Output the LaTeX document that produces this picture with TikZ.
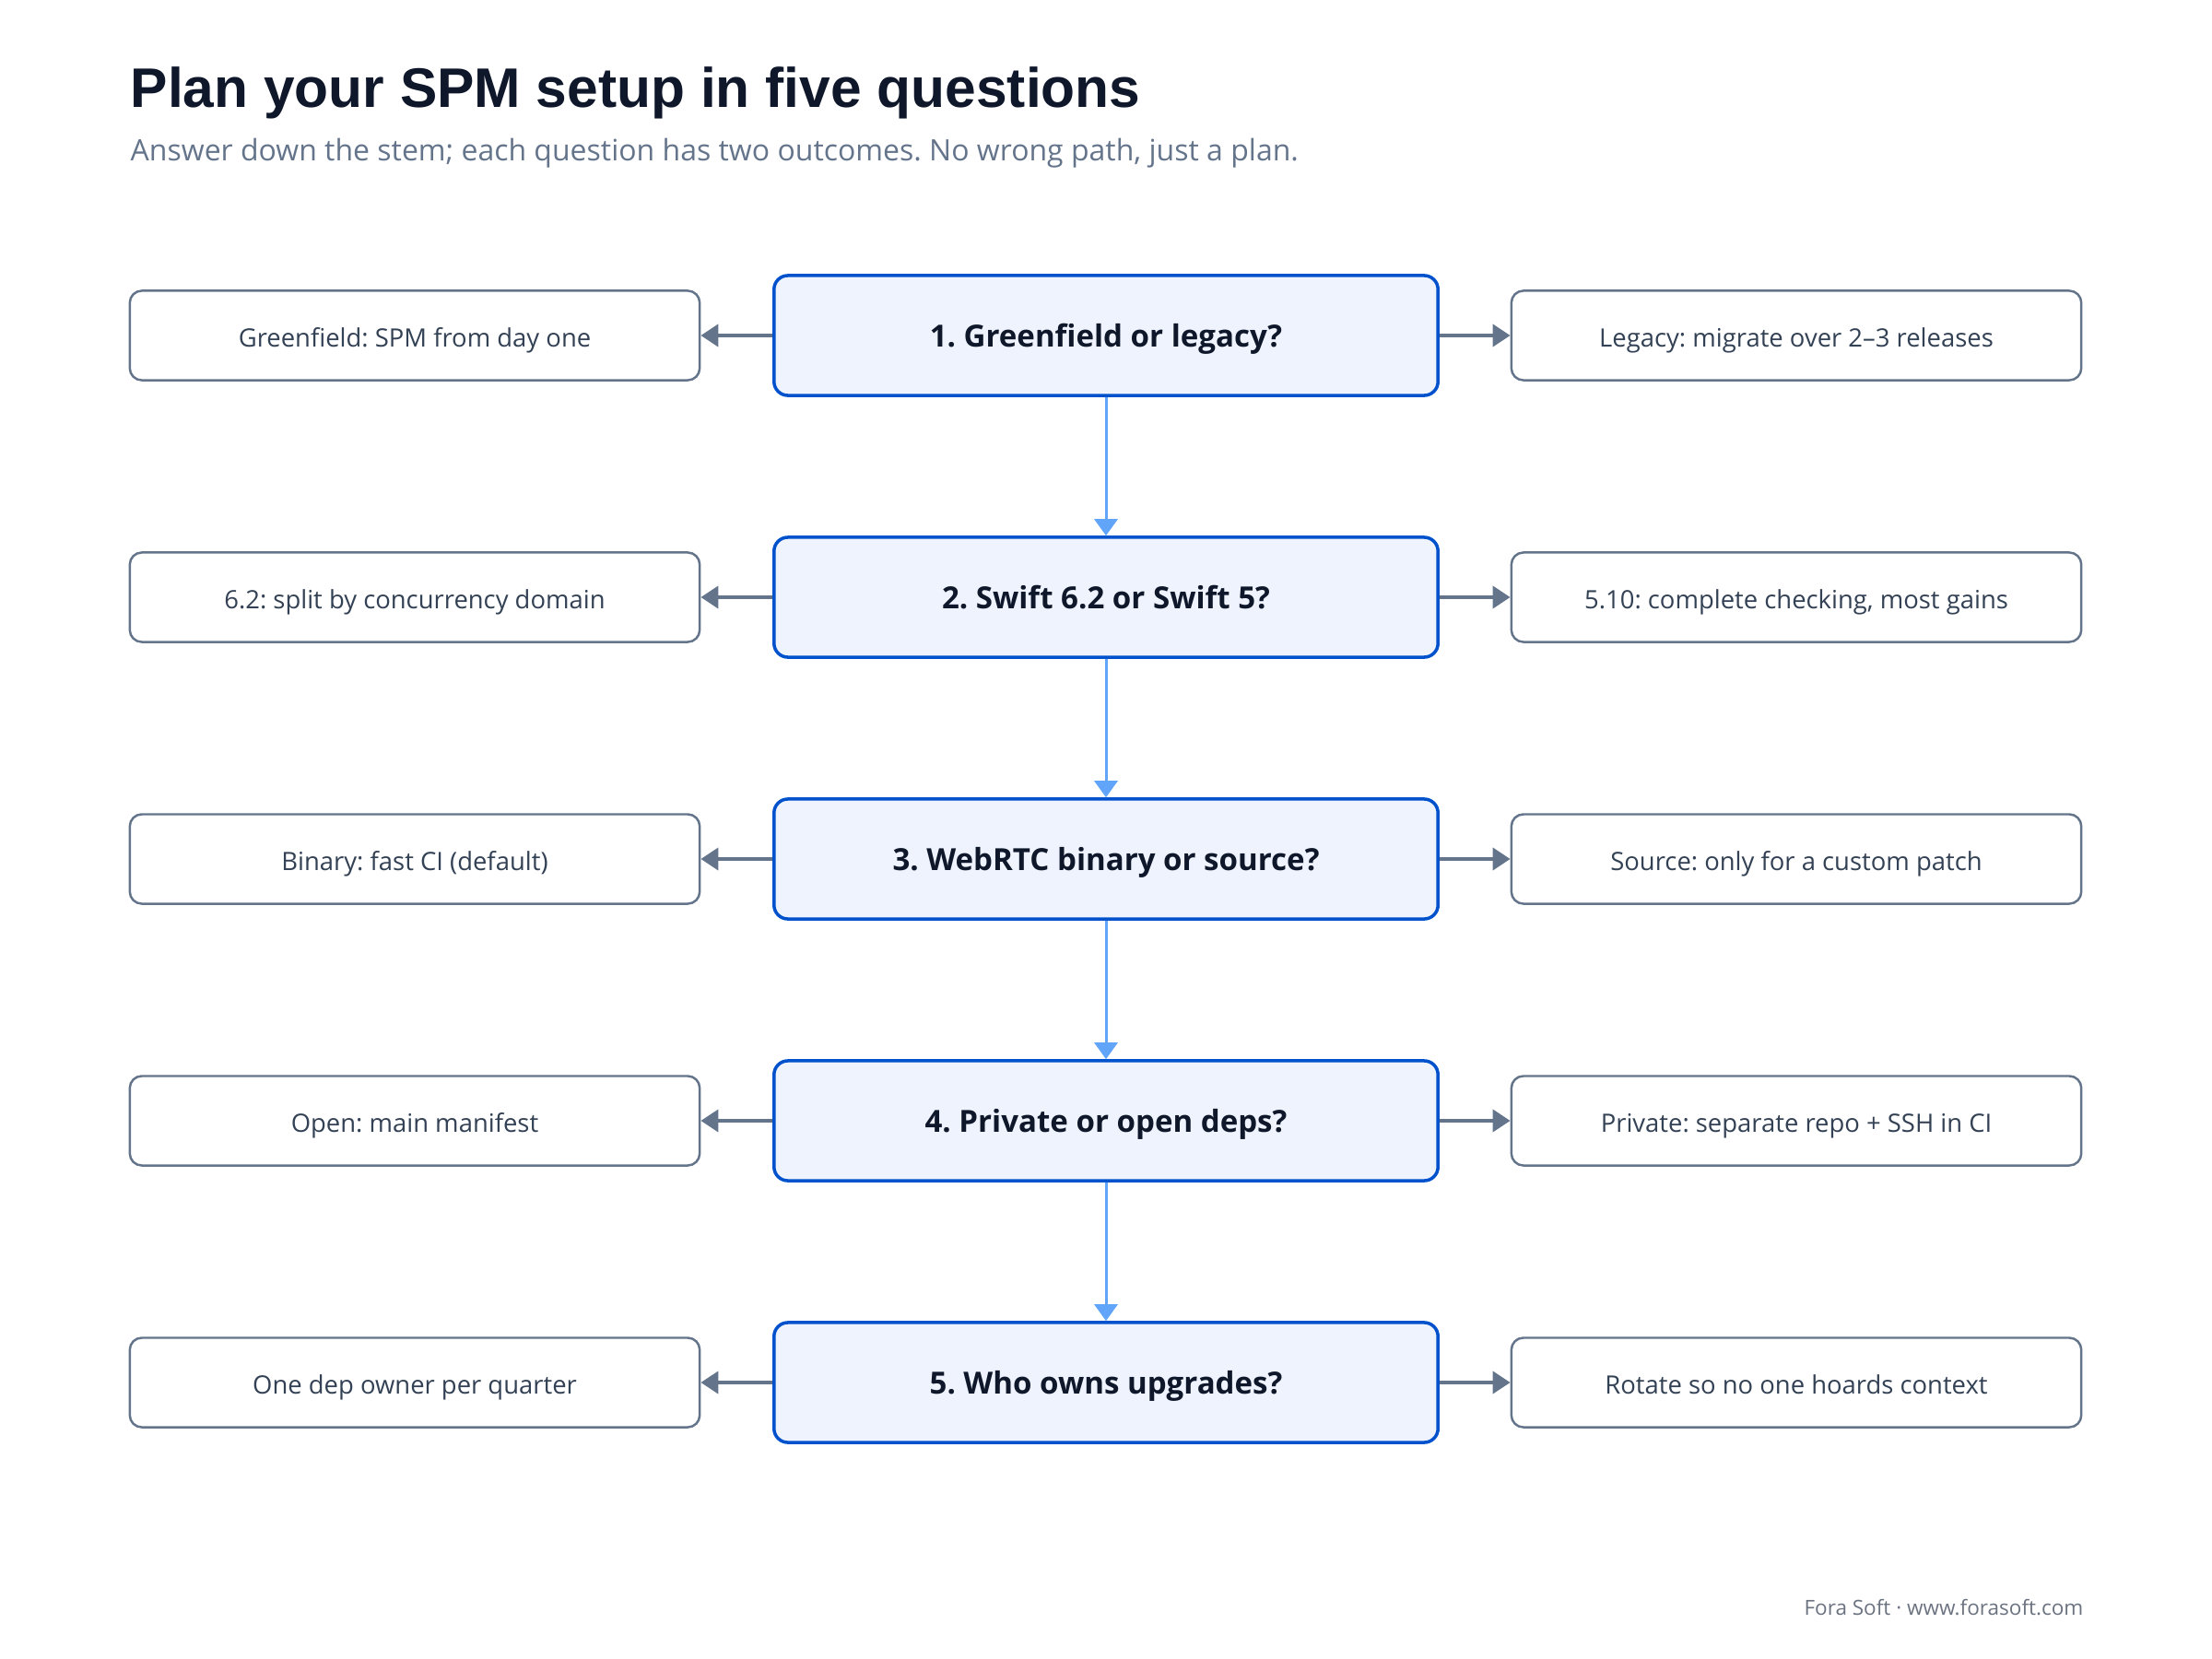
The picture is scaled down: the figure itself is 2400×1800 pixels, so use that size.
\documentclass[tikz,border=0pt]{standalone}
\usepackage{fontspec}
\setmainfont{Open Sans}
\newfontfamily\headfont{Liberation Sans}
\usetikzlibrary{arrows.meta,positioning}

\definecolor{ink}{HTML}{0F172A}
\definecolor{slate}{HTML}{64748B}
\definecolor{sidetext}{HTML}{334155}
\definecolor{qblue}{HTML}{0052CC}
\definecolor{qfill}{HTML}{EEF3FD}
\definecolor{stem}{HTML}{60A5FA}
\definecolor{foot}{HTML}{6B7280}

\frenchspacing

\begin{document}
\begin{tikzpicture}[x=0.01cm,y=-0.01cm]
            \tikzset{question/.style = {draw=qblue, fill=qfill, line width=1pt, rounded corners=0.15cm,
                minimum width=7.2cm, minimum height=1.3cm, text=ink, text height=0.714em, text depth=0pt,
                font=\fontsize{9.4}{11}\selectfont\bfseries}}
            \tikzset{outcome/.style = {draw=slate, fill=white, line width=0.7pt, rounded corners=0.13cm,
                minimum width=6.18cm, minimum height=0.97cm, text=sidetext, text height=0.714em, text depth=0pt,
                font=\fontsize{7.8}{9}\selectfont}}
            \tikzset{stemedge/.style = {stem, line width=0.85pt, -{Triangle[length=0.18cm,width=0.25cm]}}}
            \tikzset{sideedge/.style = {slate, line width=1.1pt, -{Triangle[length=0.19cm,width=0.24cm]}}}

            \useasboundingbox (0,0) rectangle (2400,1800);

            % heading
            \node[anchor=base west, inner sep=0, text=ink, font=\headfont\fontsize{17.2}{20}\selectfont\bfseries] (title) at (141,117) {Plan your SPM setup in five questions};
            \node[anchor=base west, inner sep=0, text=slate, font=\fontsize{9.1}{10}\selectfont] (subtitle) at (141,175) {Answer down the stem; each question has two outcomes. No wrong path, just a plan.};

            % the stem
            \node[question] (q1) at (1200,364) {1. Greenfield or legacy?};
            \node[question] (q2) at (1200,648) {2. Swift 6.2 or Swift 5?};
            \node[question] (q3) at (1200,932) {3. WebRTC binary or source?};
            \node[question] (q4) at (1200,1216) {4. Private or open deps?};
            \node[question] (q5) at (1200,1500) {5. Who owns upgrades?};

            \draw[stemedge] (q1) -- (q2);
            \draw[stemedge] (q2) -- (q3);
            \draw[stemedge] (q3) -- (q4);
            \draw[stemedge] (q4) -- (q5);

            % outcomes
            \node[outcome] (l1) at (450,364) {Greenfield: SPM from day one};
            \node[outcome] (r1) at (1949,364) {Legacy: migrate over 2–3 releases};
            \node[outcome] (l2) at (450,648) {6.2: split by concurrency domain};
            \node[outcome] (r2) at (1949,648) {5.10: complete checking, most gains};
            \node[outcome] (l3) at (450,932) {Binary: fast CI (default)};
            \node[outcome] (r3) at (1949,932) {Source: only for a custom patch};
            \node[outcome] (l4) at (450,1216) {Open: main manifest};
            \node[outcome] (r4) at (1949,1216) {Private: separate repo + SSH in CI};
            \node[outcome] (l5) at (450,1500) {One dep owner per quarter};
            \node[outcome] (r5) at (1949,1500) {Rotate so no one hoards context};

            \draw[sideedge] (q1) -- (l1);
            \draw[sideedge] (q1) -- (r1);
            \draw[sideedge] (q2) -- (l2);
            \draw[sideedge] (q2) -- (r2);
            \draw[sideedge] (q3) -- (l3);
            \draw[sideedge] (q3) -- (r3);
            \draw[sideedge] (q4) -- (l4);
            \draw[sideedge] (q4) -- (r4);
            \draw[sideedge] (q5) -- (l5);
            \draw[sideedge] (q5) -- (r5);

            \node[anchor=base east, inner sep=0, text=foot, font=\fontsize{6.4}{7}\selectfont] (footer) at (2261,1752) {Fora Soft · www.forasoft.com};

\end{tikzpicture}
\end{document}
